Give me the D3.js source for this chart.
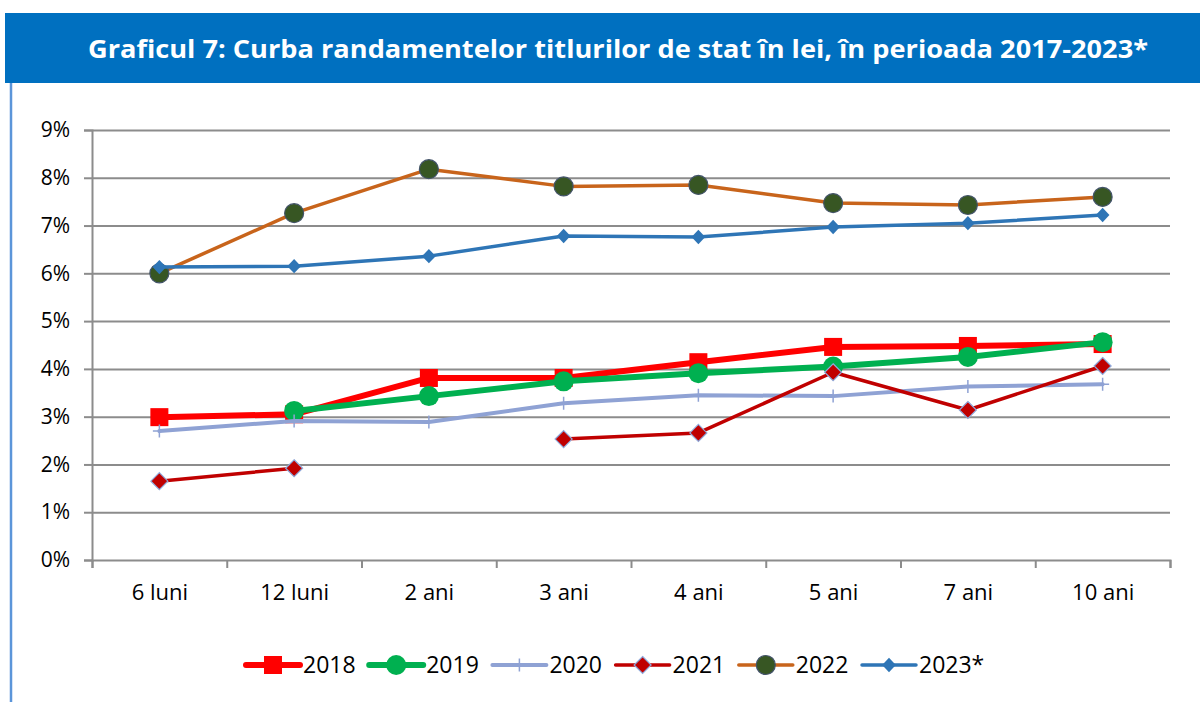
<!DOCTYPE html>
<html lang="ro">
<head>
<meta charset="UTF-8">
<title>Graficul 7</title>
<script src="https://cdn.jsdelivr.net/npm/d3@7"></script>
<style>
  body { margin: 0; background: #fff; }
  svg text { font-family: "Open Sans", Lato, sans-serif; }
</style>
</head>
<body>
<svg id="chart" width="1200" height="702"></svg>
<script>
// categorii (maturitati)
var categories = ["6 luni", "12 luni", "2 ani", "3 ani", "4 ani", "5 ani", "7 ani", "10 ani"];
var yTicks = [0, 1, 2, 3, 4, 5, 6, 7, 8, 9];

// randamente (%)
var s2018 = [2.99, 3.05, 3.81, 3.81, 4.14, 4.46, 4.48, 4.52];
var s2019 = [null, 3.12, 3.43, 3.74, 3.91, 4.05, 4.25, 4.56];
var s2020 = [2.70, 2.91, 2.89, 3.28, 3.45, 3.43, 3.63, 3.68];
var s2021 = [1.65, 1.92, null, 2.53, 2.66, 3.93, 3.14, 4.06];
var s2022 = [6.00, 7.26, 8.18, 7.82, 7.85, 7.47, 7.43, 7.60];
var s2023 = [6.13, 6.15, 6.36, 6.78, 6.76, 6.97, 7.05, 7.22];

var series = [
  {name: "2018", values: s2018, color: "#ff0000", width: 6, marker: "square"},
  {name: "2019", values: s2019, color: "#00b050", width: 6, marker: "circle"},
  {name: "2020", values: s2020, color: "#8fa2d4", width: 4, marker: "plus"},
  {name: "2021", values: s2021, color: "#c00000", width: 3.5, marker: "diamondBig"},
  {name: "2022", values: s2022, color: "#c8641b", width: 3.5, marker: "circleDark"},
  {name: "2023*", values: s2023, color: "#2e75b6", width: 3.5, marker: "diamond"}
];

var svg = d3.select("#chart");
var mLeft = 92, mRight = 1170, mTop = 130, mBottom = 560;

// bara de titlu
svg.append("rect").attr("x", 5).attr("y", 13).attr("width", 1195).attr("height", 70).attr("fill", "#0070c0");
svg.append("text")
  .attr("x", 618).attr("y", 58)
  .attr("text-anchor", "middle")
  .attr("fill", "#fff")
  .attr("font-size", 25)
  .attr("font-weight", "bold")
  .attr("font-family", "Lato, 'Open Sans', sans-serif")
  .attr("textLength", 1060)
  .attr("lengthAdjust", "spacingAndGlyphs")
  .text("Graficul 7: Curba randamentelor titlurilor de stat în lei, în perioada 2017-2023*");
svg.append("line").attr("x1", 11).attr("x2", 11).attr("y1", 83).attr("y2", 702)
  .attr("stroke", "#5b95d9").attr("stroke-width", 2.5);

var x = d3.scalePoint().domain(categories).range([mLeft, mRight]).padding(0.5);
var xEdge = d3.scaleLinear().domain([0, categories.length]).range([mLeft, mRight]);
var y = d3.scaleLinear().domain([0, 9]).range([mBottom, mTop]);

// grila
svg.append("g")
  .attr("transform", "translate(" + mLeft + ",0)")
  .call(d3.axisLeft(y).tickValues(yTicks.slice(1)).tickSize(-(mRight - mLeft)).tickFormat(""))
  .call(function (g) {
    g.select(".domain").remove();
    g.selectAll("line").attr("stroke", "#8c8c8c").attr("stroke-width", 2);
  });

// axa Y
svg.append("g")
  .attr("transform", "translate(" + mLeft + ",0)")
  .call(d3.axisLeft(y).tickValues(yTicks).tickSize(8).tickPadding(14).tickFormat(function (d) { return d + "%"; }))
  .call(function (g) {
    g.select(".domain").attr("stroke", "#8c8c8c").attr("stroke-width", 2);
    g.selectAll("line").attr("stroke", "#8c8c8c").attr("stroke-width", 2);
    g.selectAll("text").attr("font-size", 21).attr("fill", "#000");
  });

// axa X
svg.append("g")
  .attr("transform", "translate(0," + mBottom + ")")
  .call(d3.axisBottom(xEdge).tickValues(d3.range(0, categories.length + 1)).tickSize(8).tickFormat(""))
  .call(function (g) {
    g.select(".domain").attr("stroke", "#8c8c8c").attr("stroke-width", 2);
    g.selectAll("line").attr("stroke", "#8c8c8c").attr("stroke-width", 2);
  });
svg.append("g")
  .attr("transform", "translate(0," + mBottom + ")")
  .call(d3.axisBottom(x).tickSize(0).tickPadding(24))
  .call(function (g) {
    g.select(".domain").remove();
    g.selectAll("text").attr("font-size", 22).attr("fill", "#000");
  });

function drawMarker(g, type, color, cx, cy) {
  if (type === "square") {
    var s = 18;
    g.append("rect").attr("x", cx - s / 2).attr("y", cy - s / 2).attr("width", s).attr("height", s).attr("fill", color);
  } else if (type === "circle") {
    g.append("circle").attr("cx", cx).attr("cy", cy).attr("r", 10).attr("fill", color);
  } else if (type === "circleDark") {
    g.append("circle").attr("cx", cx).attr("cy", cy).attr("r", 9.5)
      .attr("fill", "#375623").attr("stroke", "#44546a").attr("stroke-width", 1.2);
  } else if (type === "plus") {
    var h = 6.5;
    g.append("path").attr("d", "M" + (cx - h) + "," + cy + "H" + (cx + h) + "M" + cx + "," + (cy - h) + "V" + (cy + h))
      .attr("stroke", color).attr("stroke-width", 1.5).attr("fill", "none");
  } else if (type === "diamondBig") {
    var d = 8.5;
    g.append("path").attr("d", "M" + cx + "," + (cy - d) + "L" + (cx + d) + "," + cy + "L" + cx + "," + (cy + d) + "L" + (cx - d) + "," + cy + "Z")
      .attr("fill", color).attr("stroke", "#8ea9db").attr("stroke-width", 1.2);
  } else if (type === "diamond") {
    var w = 6.8, hh = 7.2;
    g.append("path").attr("d", "M" + cx + "," + (cy - hh) + "L" + (cx + w) + "," + cy + "L" + cx + "," + (cy + hh) + "L" + (cx - w) + "," + cy + "Z")
      .attr("fill", color);
  }
}

var line = d3.line()
  .defined(function (d) { return d.v !== null; })
  .x(function (d) { return x(d.c); })
  .y(function (d) { return y(d.v); });

series.forEach(function (s) {
  var pts = s.values.map(function (v, i) { return {c: categories[i], v: v}; });
  var g = svg.append("g");
  g.append("path").datum(pts).attr("d", line)
    .attr("fill", "none").attr("stroke", s.color).attr("stroke-width", s.width)
    .attr("stroke-linejoin", "round").attr("stroke-linecap", "round");
  pts.forEach(function (p) {
    if (p.v !== null) drawMarker(g, s.marker, s.color, x(p.c), y(p.v));
  });
});

// legenda
var legendY = 665;
series.forEach(function (s, i) {
  var lx = 246 + i * 123.2;
  var g = svg.append("g");
  g.append("line").attr("x1", lx).attr("x2", lx + 54).attr("y1", legendY).attr("y2", legendY)
    .attr("stroke", s.color).attr("stroke-width", s.width).attr("stroke-linecap", "round");
  drawMarker(g, s.marker, s.color, lx + 27, legendY);
  g.append("text").attr("x", lx + 57).attr("y", legendY + 8)
    .attr("font-size", 23).attr("fill", "#000").text(s.name);
});
</script>
</body>
</html>
